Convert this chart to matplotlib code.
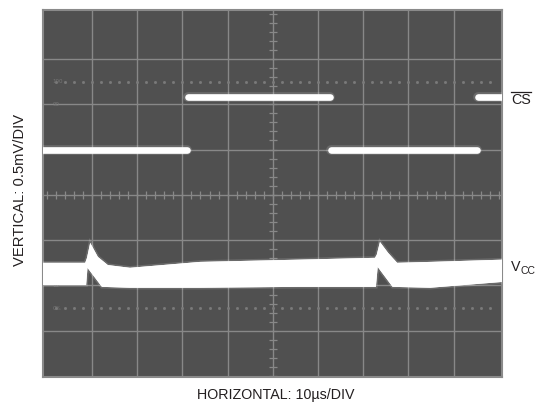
import numpy as np
import matplotlib
matplotlib.use('Agg')
import matplotlib.pyplot as plt
from matplotlib.lines import Line2D

label_font = 'Liberation Sans'

# CS trace, in divisions (x: 0..10, y: -4..4)
cs_start = [-0.2, 3.12, 6.28, 9.55]
cs_end = [3.10, 6.26, 9.52, 10.2]
cs_level = [0.99, 2.15, 0.99, 2.16]

# VCC trace envelope (noise band)
vcc_top_x = [-0.1, 0.85, 0.89, 0.96, 1.13, 1.35, 1.84, 3.39, 5.60, 7.26, 7.30, 7.37, 7.55, 7.75, 8.48, 10.1]
vcc_top_y = [-1.50, -1.50, -1.39, -1.06, -1.37, -1.55, -1.61, -1.48, -1.43, -1.39, -1.32, -1.04, -1.28, -1.50, -1.48, -1.43]
vcc_bot_x = [-0.1, 0.87, 0.90, 1.22, 1.84, 3.39, 5.60, 7.28, 7.32, 7.65, 8.48, 10.1]
vcc_bot_y = [-1.99, -1.99, -1.61, -2.03, -2.05, -2.05, -2.03, -2.03, -1.59, -2.03, -2.05, -1.92]

fig = plt.figure(figsize=(5.39, 4.08), dpi=100)
fig.patch.set_facecolor('white')
ax = fig.add_axes([43/539, 31/408, 459/539, 367/408])
ax.set_facecolor('#505050')
ax.set_xlim(-0.084, 10.07)
ax.set_ylim(-4.02, 4.08)
ax.set_xticks([])
ax.set_yticks([])
for s in ax.spines.values():
    s.set_color('#8a8a8a')
    s.set_linewidth(1.5)

grid_c = '#888888'
# graticule
for gx in range(1, 10):
    ax.axvline(gx, color=grid_c, lw=1.0, zorder=1)
for gy in range(-3, 4):
    ax.axhline(gy, color=grid_c, lw=1.0, zorder=1)
# minor ticks on center lines
minor = np.arange(0, 10.01, 0.2)
ax.vlines(minor, -0.09, 0.09, color=grid_c, lw=0.9, zorder=1)
minor_y = np.arange(-4, 4.01, 0.2)
ax.hlines(minor_y, 5 - 0.09, 5 + 0.09, color=grid_c, lw=0.9, zorder=1)
# dotted 0% / 100% lines
dots = np.arange(0.2, 10, 0.2)
ax.plot(dots, np.full(len(dots), 2.5), ls='none', marker='s', ms=1.0, color='#7a7a7a', zorder=1)
ax.plot(dots, np.full(len(dots), -2.5), ls='none', marker='s', ms=1.0, color='#7a7a7a', zorder=1)
for lab, yy in [('100', 2.5), ('90', 2.0), ('10', -2.0), ('0%', -2.5)]:
    ax.text(0.12, yy, lab, fontsize=4, color='#777777', va='center', ha='left', zorder=1)

# CS trace
for x0, x1, lv in zip(cs_start, cs_end, cs_level):
    ax.plot([x0, x1], [lv, lv], color='white', lw=7, alpha=0.15, solid_capstyle='round', zorder=3)
    ax.plot([x0, x1], [lv, lv], color='white', lw=4.8, solid_capstyle='round', zorder=4)

# VCC trace
px = np.r_[vcc_top_x, vcc_bot_x[::-1]]
py = np.r_[vcc_top_y, vcc_bot_y[::-1]]
ax.fill(px, py, facecolor='white', edgecolor=(1, 1, 1, 0.15), lw=2.5, zorder=3)
ax.fill(px, py, facecolor='white', edgecolor='none', zorder=4)

# labels
txt_c = '#231f20'
fig.text(20/539, 1 - 190/408, 'VERTICAL: 0.5mV/DIV', rotation=90, ha='center', va='center',
         fontsize=10.6, color=txt_c, family=label_font)
fig.text(276/539, 1 - 395/408, 'HORIZONTAL: 10\u00b5s/DIV', ha='center', va='center',
         fontsize=10.3, color=txt_c, family=label_font)
cs_txt = fig.text(511/539, 1 - 100/408, 'CS', ha='left', va='center',
                  fontsize=10.3, color=txt_c, family=label_font)
v_txt = fig.text(511/539, 1 - 267/408, 'V', ha='left', va='center',
                 fontsize=10.3, color=txt_c, family=label_font)

fig.canvas.draw()
r = fig.canvas.get_renderer()
bb = cs_txt.get_window_extent(r)
yline = (bb.y1 + 1.0) / fig.bbox.height
fig.add_artist(Line2D([bb.x0 / fig.bbox.width, bb.x1 / fig.bbox.width], [yline, yline],
                      transform=fig.transFigure, color=txt_c, lw=0.9))
vb = v_txt.get_window_extent(r)
fig.text(vb.x1 / fig.bbox.width, (vb.y0 - 2) / fig.bbox.height, 'CC', ha='left', va='bottom',
         fontsize=7.5, color=txt_c, family=label_font)

fig.savefig('out.png', dpi=100)
